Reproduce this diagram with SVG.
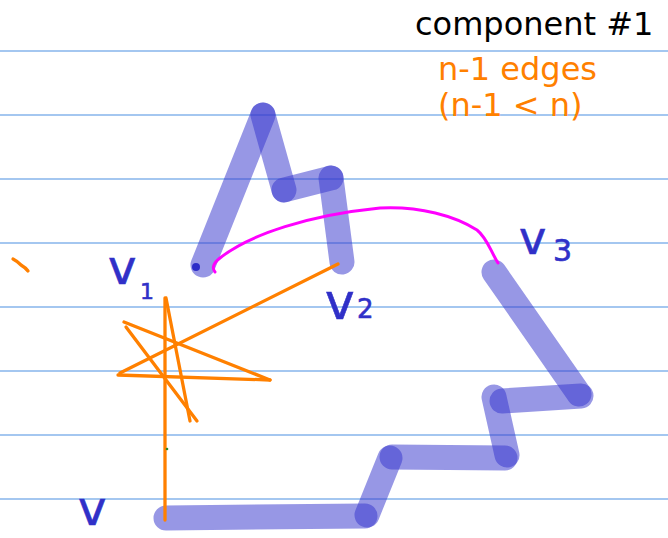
<svg xmlns="http://www.w3.org/2000/svg" width="668" height="538" viewBox="0 0 668 538">
<style>
.rule{stroke:#4a90e2;stroke-width:1.2}
.hl{stroke:#3737cd;stroke-opacity:0.52;stroke-width:25;stroke-linecap:round;fill:none}
.or{stroke:#ff8000;stroke-width:3.3;stroke-linecap:round;fill:none}
.mg{stroke:#ff00ff;stroke-width:3;stroke-linecap:round;stroke-linejoin:round;fill:none}
.typed{font-family:"DejaVu Sans",sans-serif;font-size:32px}
.hand{font-family:"DejaVu Sans",sans-serif;fill:#3030c8;stroke:#3030c8;stroke-width:0.6}
</style>
<rect width="668" height="538" fill="#ffffff"/>
<g id="rules">
<line class="rule" x1="0" y1="51" x2="668" y2="51"/>
<line class="rule" x1="0" y1="115" x2="668" y2="115"/>
<line class="rule" x1="0" y1="179" x2="668" y2="179"/>
<line class="rule" x1="0" y1="243" x2="668" y2="243"/>
<line class="rule" x1="0" y1="307" x2="668" y2="307"/>
<line class="rule" x1="0" y1="371" x2="668" y2="371"/>
<line class="rule" x1="0" y1="435" x2="668" y2="435"/>
<line class="rule" x1="0" y1="499" x2="668" y2="499"/>
</g>
<g id="highlight">
<line class="hl" x1="203" y1="265" x2="263" y2="115"/>
<line class="hl" x1="263" y1="115" x2="284" y2="190"/>
<line class="hl" x1="284" y1="190" x2="331" y2="178"/>
<line class="hl" x1="331" y1="178" x2="342" y2="262"/>
<line class="hl" x1="494" y1="272" x2="579" y2="394"/>
<line class="hl" x1="581" y1="396" x2="502" y2="401"/>
<line class="hl" x1="494" y1="397" x2="507" y2="455"/>
<line class="hl" x1="505" y1="458" x2="392" y2="457"/>
<line class="hl" x1="390" y1="458" x2="367" y2="515"/>
<line class="hl" x1="365" y1="516" x2="166" y2="518"/>
</g>
<g id="orange-strokes">
<line class="or" x1="165" y1="298" x2="165" y2="520"/>
<line class="or" x1="166" y1="298" x2="190" y2="421"/>
<line class="or" x1="338" y1="264" x2="120" y2="373"/>
<line class="or" x1="118" y1="375" x2="270" y2="380"/>
<line class="or" x1="270" y1="380" x2="124" y2="322"/>
<line class="or" x1="126" y1="327" x2="197" y2="421"/>
<path class="or" d="M13,259 Q17,261 21,265 Q26,268 28,271"/>
</g>
<g id="connector">
<path class="mg" d="M215,272 Q210,266 220,258 C250,234 310,215 380,208 C420,206 455,216 477,230 C487,238 490,250 498,263"/>
</g>
<circle cx="196" cy="267" r="4" fill="#2d2dc8"/>
<circle cx="167" cy="449" r="1.3" fill="#2a8a2a"/>
<g id="labels">
<text class="typed" x="415" y="35" font-size="31.5" fill="#000000">component #1</text>
<text class="typed" x="438" y="80" fill="#ff8000">n-1 edges</text>
<text class="typed" x="438" y="116" fill="#ff8000">(n-1 &lt; n)</text>
<text class="hand" x="108" y="284" font-size="48">v</text>
<text class="hand" x="140" y="299" font-size="22">1</text>
<text class="hand" x="325" y="319" font-size="50">v</text>
<text class="hand" x="357" y="318" font-size="26">2</text>
<text class="hand" x="519" y="254" font-size="46">v</text>
<text class="hand" x="553" y="261" font-size="30">3</text>
<text class="hand" x="78" y="525" font-size="48">v</text>
</g>
</svg>
